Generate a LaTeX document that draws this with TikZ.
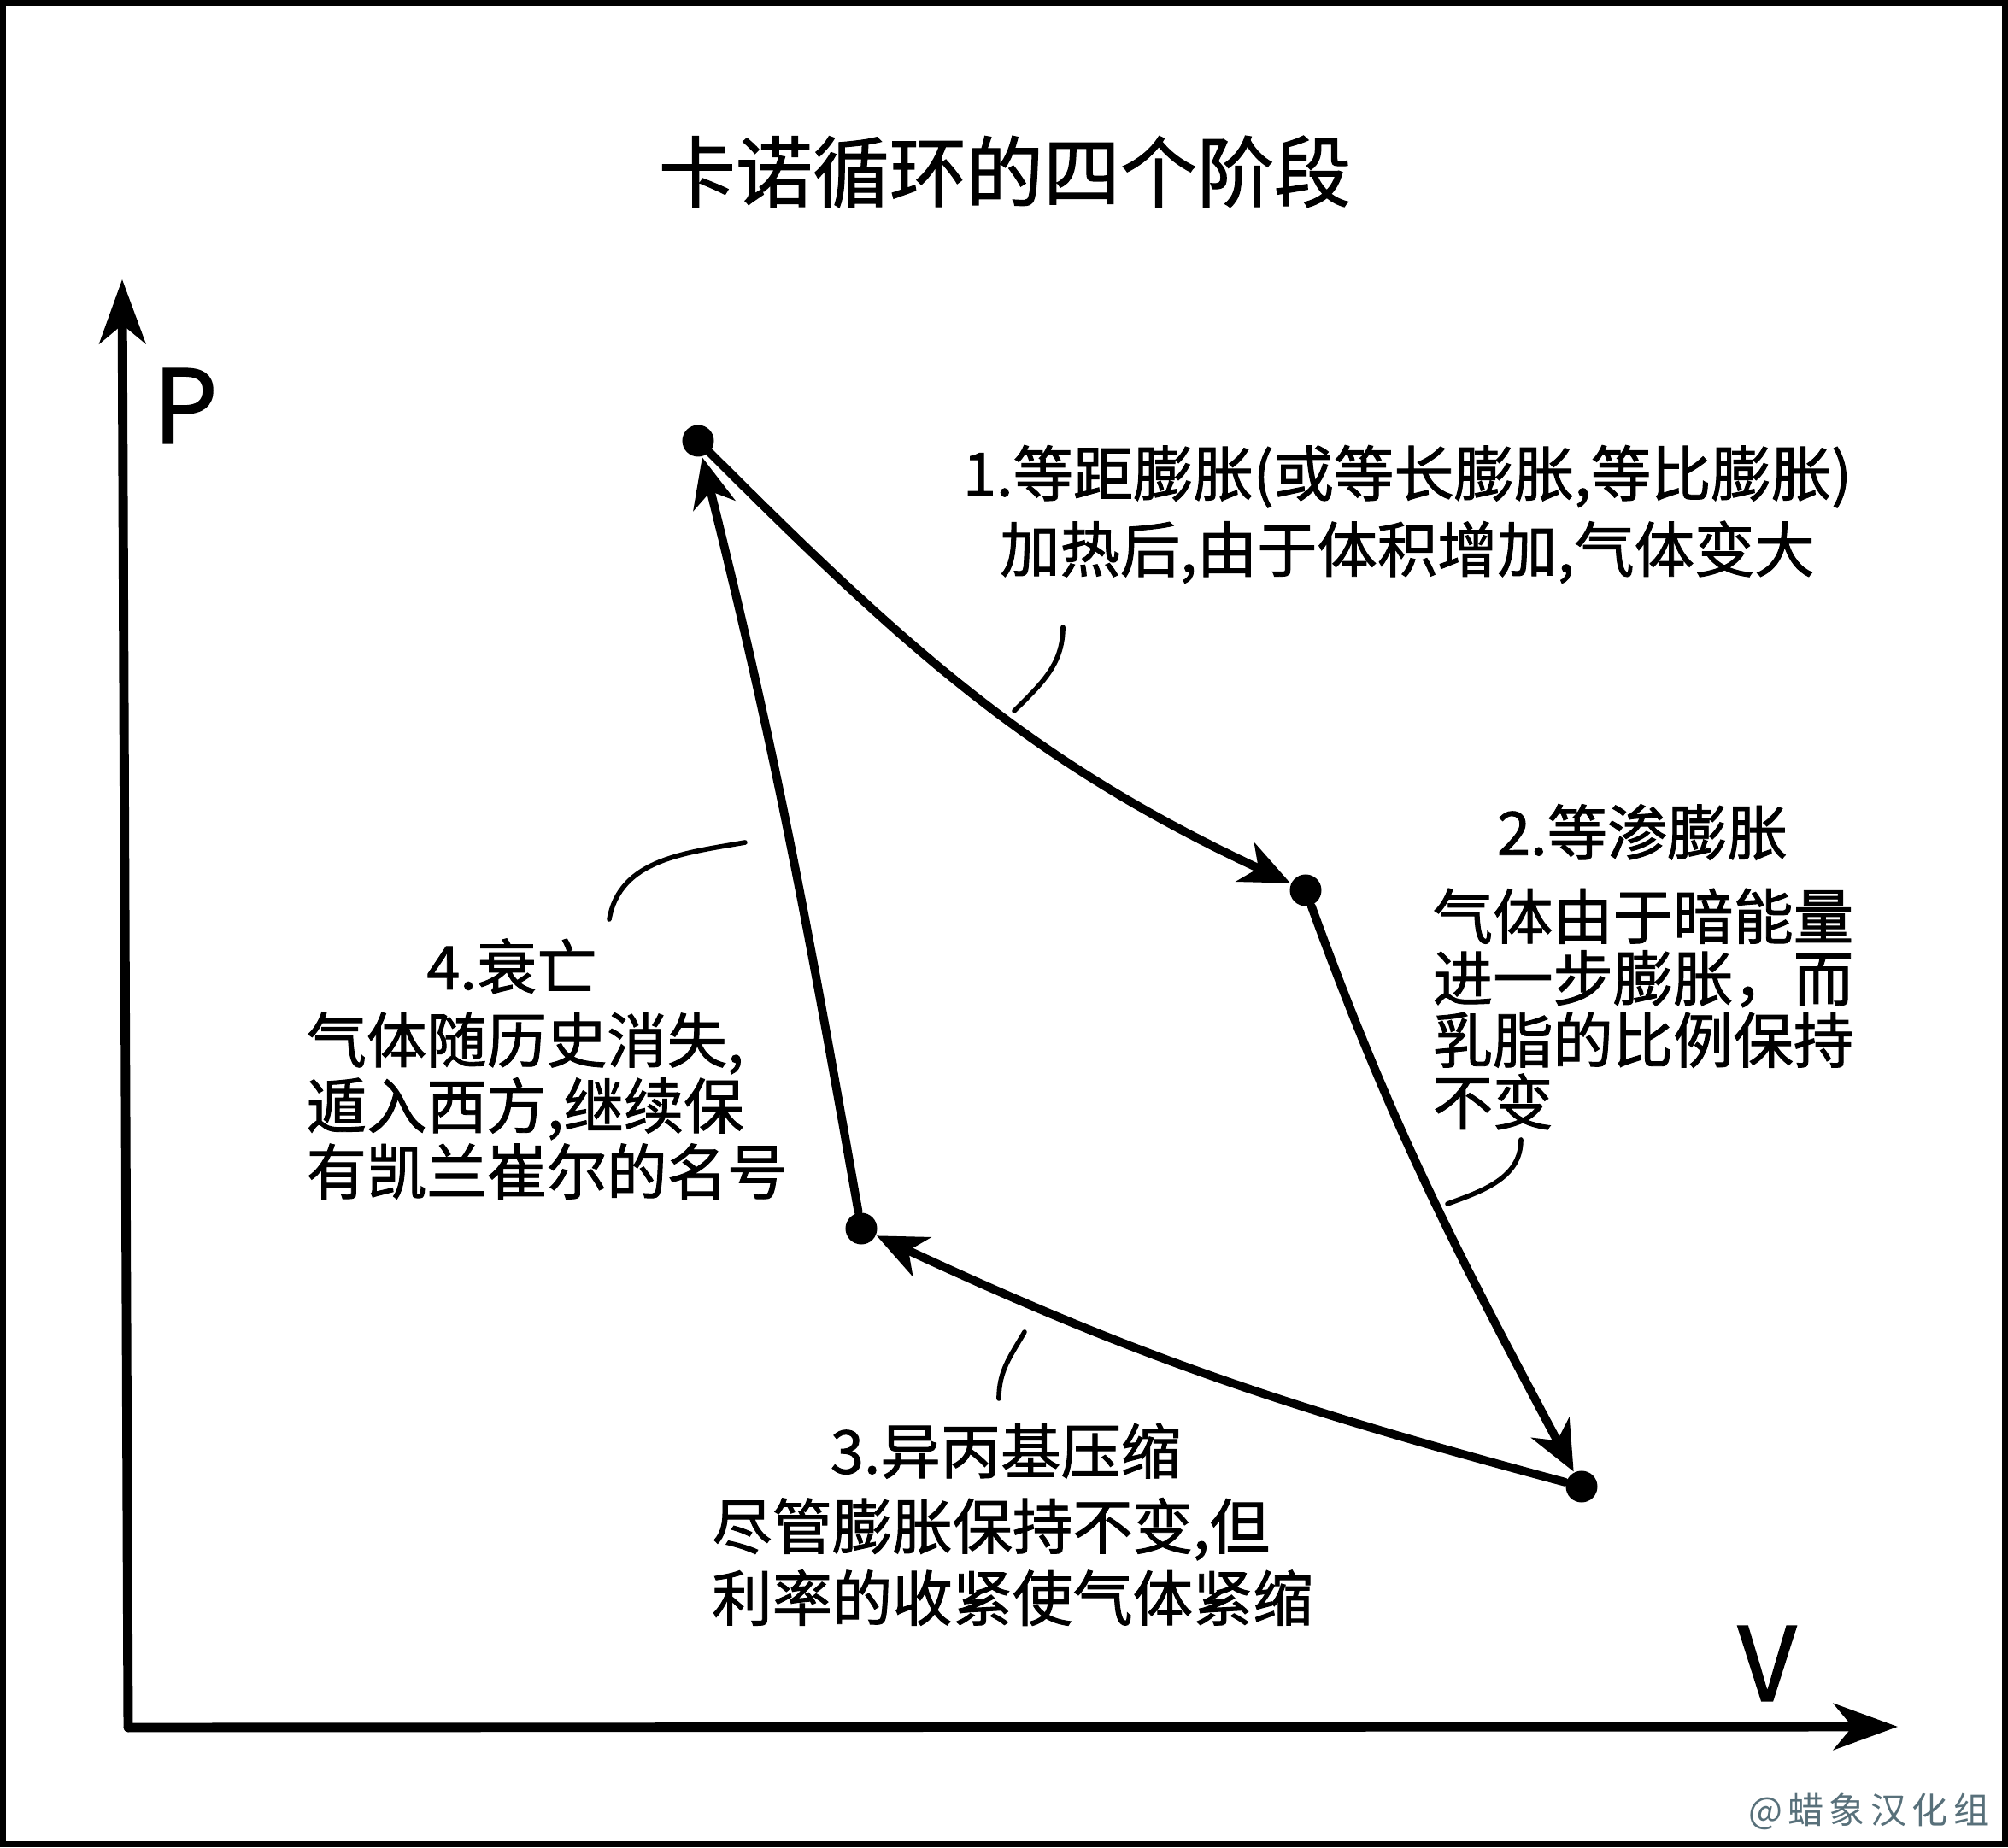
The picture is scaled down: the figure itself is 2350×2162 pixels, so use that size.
\documentclass[tikz,border=0pt]{standalone}
\usepackage{fontspec}
\setmainfont{Noto Sans CJK SC}[FakeBold=1.3]
\newfontfamily\markfont[LetterSpace=15]{Noto Sans CJK SC}
\usepackage{tikz}
\usetikzlibrary{arrows.meta}
\definecolor{markgray}{RGB}{88,112,122}
\tikzset{every picture/.style={line width=0.75pt}}

\begin{document}
\begin{tikzpicture}[x=0.01cm,y=0.01cm,
  dot/.style={circle,fill=black,inner sep=0pt,minimum size=0.37cm},
  cyc/.style={line width=2.8pt,line cap=round,-{Stealth[length=5.8mm,width=5mm,inset=1.7mm]}},
  axis/.style={line width=3.1pt,line cap=round,-{Stealth[length=7.5mm,width=5.4mm,inset=2.2mm]}},
  lead/.style={line width=1.6pt,line cap=round},
  txt/.style={inner sep=0pt,font=\fontsize{20pt}{24pt}\selectfont}]
\useasboundingbox (0,0) rectangle (2350,2162);
\draw[line width=2pt] (3.5,3.5) rectangle (2346.5,2158.5);
%
\node (title) at (1176,1961) {\fontsize{25.6pt}{30pt}\selectfont 卡诺循环的四个阶段};
%
\coordinate (o) at (150,140);
\coordinate (ptip) at (143,1835);
\coordinate (vtip) at (2221,141);
\draw[axis] (o) -- (ptip);
\draw[axis] (o) -- (vtip);
\node (P) at (217,1687) {\fontsize{34pt}{34pt}\selectfont P};
\node (V) at (2068,215) {\fontsize{34pt}{34pt}\selectfont V};
%
\node[dot] (1) at (817,1646) {};
\node[dot] (2) at (1528,1120) {};
\node[dot] (3) at (1851,422) {};
\node[dot] (4) at (1008,724) {};
%
\foreach \Source/\Target/\Out/\In in {%
	1/2/-45/155,
	2/3/-70/118,
	3/4/165/-25,
	4/1/100/-76%
    }
\draw[cyc] (\Source) to[out=\Out,in=\In] (\Target);
%
\node[txt,align=center,font=\fontsize{20pt}{25.3pt}\selectfont] (s1) at (1647,1560) {1.等距膨胀(或等长膨胀,等比膨胀)\\加热后,由于体积增加,气体变大};
\node[txt] (h2) at (1922,1188) {2.等渗膨胀};
\node[txt,align=left,font=\fontsize{20pt}{20.6pt}\selectfont] (s2) at (1923,981) {气体由于暗能量\\进一步膨胀，而\\乳脂的比例保持\\不变};
\node[txt] (h3) at (1177,464) {3.异丙基压缩};
\node[txt,align=left,font=\fontsize{20pt}{23.9pt}\selectfont] (s3) at (1185,334) {尽管膨胀保持不变,但\\利率的收紧使气体紧缩};
\node[txt] (h4) at (599,1031) {4.衰亡};
\node[txt,align=left,font=\fontsize{20pt}{21.9pt}\selectfont] (s4) at (640,868) {气体随历史消失,\\遁入西方,继续保\\有凯兰崔尔的名号};
%
\coordinate (l1a) at (1244,1428);
\coordinate (l1b) at (1187,1330);
\coordinate (l2a) at (1780,828);
\coordinate (l2b) at (1694,753);
\coordinate (l3a) at (1199,603);
\coordinate (l3b) at (1169,525);
\coordinate (l4a) at (872,1176);
\coordinate (l4b) at (713,1086);
\draw[lead] (l1a) to[out=-90,in=45] (l1b);
\draw[lead] (l2a) to[out=-90,in=20] (l2b);
\draw[lead] (l3a) to[out=-120,in=90] (l3b);
\draw[lead] (l4a) to[out=190,in=80] (l4b);
%
\node[anchor=east,text=markgray,inner sep=0pt] (mark) at (2330,42) {\markfont\fontsize{12pt}{12pt}\selectfont @蜡象汉化组};
\end{tikzpicture}
\end{document}
